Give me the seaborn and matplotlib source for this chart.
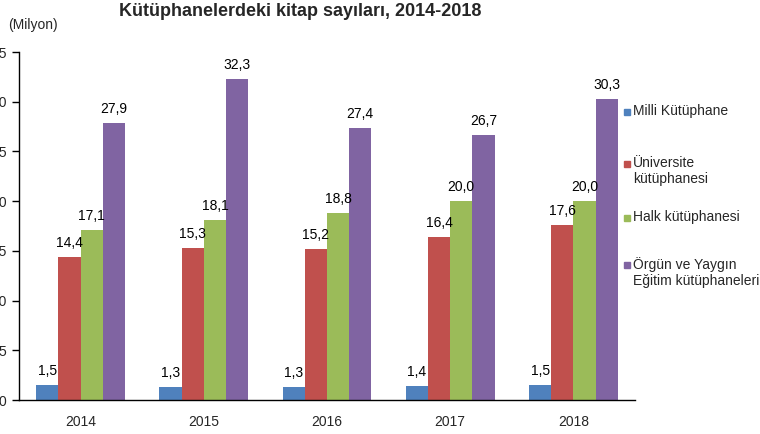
import matplotlib
matplotlib.use("Agg")
import matplotlib.pyplot as plt
import seaborn as sns
import pandas as pd
from matplotlib.patches import Rectangle

years = ["2014", "2015", "2016", "2017", "2018"]
series = ["Milli Kütüphane", "Üniversite\nkütüphanesi", "Halk kütüphanesi",
          "Örgün ve Yaygın\nEğitim kütüphaneleri"]
milli = [1.5, 1.3, 1.3, 1.4, 1.5]
universite = [14.4, 15.3, 15.2, 16.4, 17.6]
halk = [17.1, 18.1, 18.8, 20.0, 20.0]
orgun = [27.9, 32.3, 27.4, 26.7, 30.3]
colors = ["#4F81BD", "#C0504D", "#9BBB59", "#8064A2"]
yticks = [0, 5, 10, 15, 20, 25, 30, 35]
title = "Kütüphanelerdeki kitap sayıları, 2014-2018"
unit = "(Milyon)"

rows = []
for s, vals in zip(series, [milli, universite, halk, orgun]):
    for y, v in zip(years, vals):
        rows.append({"Yıl": y, "Seri": s, "Değer": v})
df = pd.DataFrame(rows)

sns.set_theme(style="white")
plt.rcParams["font.family"] = ["Liberation Sans", "DejaVu Sans"]

fig = plt.figure(figsize=(7.6, 4.34), dpi=100)
ax = fig.add_axes([19/760, 1-400/434, (635-19)/760, (400-52)/434])

sns.barplot(data=df, x="Yıl", y="Değer", hue="Seri", order=years,
            hue_order=series, palette=colors, width=0.72, ax=ax,
            saturation=1, legend=False, errorbar=None, linewidth=0)

for cont in ax.containers:
    for bar in cont:
        h = bar.get_height()
        ax.annotate(f"{h:.1f}".replace(".", ","),
                    (bar.get_x() + bar.get_width()/2, h),
                    xytext=(0, 5), textcoords="offset points",
                    ha="center", va="bottom", fontsize=10, color="#000000")

ax.set_ylim(0, 35)
ax.set_xlim(-0.5, len(years)-0.5)
ax.set_yticks(yticks)
ax.set_yticklabels([str(t) for t in yticks], fontsize=10)
ax.set_xlabel("")
ax.set_ylabel("")
ax.tick_params(axis="x", which="major", length=0, labelsize=10, pad=11)
ax.set_xticks([i - 0.5 for i in range(len(years)+1)], minor=True)
ax.tick_params(axis="x", which="minor", length=5, width=1, color="#000000", direction="out")
ax.tick_params(axis="y", length=5, width=1, color="#000000", direction="out", pad=4, left=True)
for sp in ["top", "right"]:
    ax.spines[sp].set_visible(False)
for sp in ["left", "bottom"]:
    ax.spines[sp].set_color("#000000")
    ax.spines[sp].set_linewidth(1)

fig.text(300/760, 1-12/434, title, ha="center", va="center",
         fontsize=13, fontweight="bold")
fig.text(8/760, 1-25/434, unit, ha="left", va="center", fontsize=10)

leg_y = [112, 164, 218, 265]
for s, c, yy in zip(series, colors, leg_y):
    fig.patches.append(Rectangle((624/760, 1-(yy+3)/434), 6/760, 6/434,
                                 transform=fig.transFigure, color=c))
    fig.text(633/760, 1-(yy-8)/434, s, ha="left", va="top", fontsize=10,
             linespacing=1.15)

fig.savefig("out.png", dpi=100)
